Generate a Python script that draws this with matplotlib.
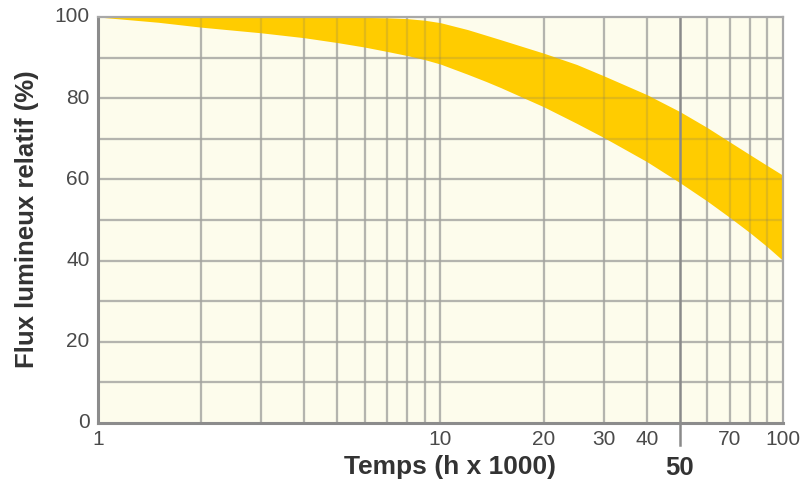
import matplotlib
matplotlib.use("Agg")
import matplotlib.pyplot as plt

# Data
time_k = [1, 1.5, 2, 3, 4, 5, 6, 7, 8, 9, 10, 12, 13.6, 15, 20, 25, 30, 40, 50, 60, 70, 80, 90, 100]
flux_upper = [100, 100, 100, 100, 100, 100, 99.9, 99.8, 99.6, 99.2, 98.6, 96.9, 95.5, 94.4, 91.1, 88.3, 85.5, 80.9, 76.7, 72.8, 69.2, 66.1, 63.4, 61]
flux_lower = [100, 98.7, 97.5, 96.1, 94.9, 93.7, 92.6, 91.5, 90.5, 89.5, 88.4, 85.9, 84.1, 82.6, 77.9, 73.8, 70.3, 64.4, 59.2, 54.7, 50.6, 46.9, 43.4, 40]

x_tick_vals = [1, 10, 20, 30, 40, 70, 100]
x_tick_labels = ["1", "10", "20", "30", "40", "70", "100"]
x_grid = [2, 3, 4, 5, 6, 7, 8, 9, 10, 20, 30, 40, 60, 70, 80, 90]
highlight_x = 50
y_tick_vals = [0, 20, 40, 60, 80, 100]
y_grid = [10, 20, 30, 40, 50, 60, 70, 80, 90]

plt.rcParams['font.family'] = ['Liberation Sans', 'DejaVu Sans']

fig = plt.figure(figsize=(8.04, 4.82), dpi=100)
ax = fig.add_axes([98/804, 1-423/482, (783-98)/804, (423-17)/482])
ax.set_facecolor('#fdfcec')
ax.set_xscale('log')
ax.set_xlim(1, 100)
ax.set_ylim(0, 100)

base_c = '#c6c6be'
for xv in x_grid:
    ax.axvline(xv, color=base_c, lw=1.6, zorder=1)
    ax.axvline(xv, color='#707070', alpha=0.2, lw=1.6, zorder=3)
for yv in y_grid:
    ax.axhline(yv, color=base_c, lw=1.6, zorder=1)
    ax.axhline(yv, color='#707070', alpha=0.2, lw=1.6, zorder=3)

ax.fill_between(time_k, flux_lower, flux_upper, color='#ffcc00', lw=0, zorder=2)

ax.axvline(highlight_x, color='#8a8a8a', lw=1.8, zorder=4)

for s in ['left', 'bottom']:
    ax.spines[s].set_color('#8c8c8c')
    ax.spines[s].set_linewidth(2.2)
for s in ['top', 'right']:
    ax.spines[s].set_color('#a8a8a8')
    ax.spines[s].set_linewidth(1.6)
for s in ax.spines.values():
    s.set_zorder(5)

ax.set_xticks(x_tick_vals)
ax.set_xticklabels(x_tick_labels)
ax.xaxis.set_minor_locator(matplotlib.ticker.NullLocator())
ax.set_yticks(y_tick_vals)
ax.set_yticklabels([str(v) for v in y_tick_vals])
ax.tick_params(axis='both', length=0, labelsize=15, colors='#4a4a4a')
ax.tick_params(axis='x', pad=5)
ax.tick_params(axis='y', pad=6)
for lbl in ax.get_yticklabels():
    lbl.set_verticalalignment('center')

# bold highlighted 50 with tick below axis
ax.plot([highlight_x, highlight_x], [0, -5.4], color='#8a8a8a', lw=1.8, clip_on=False, zorder=4)
ax.text(highlight_x, -11, "50", ha='center', va='center', fontsize=18.5, fontweight='bold',
        color='#333333', clip_on=False)

fig.text(450/804, 1-467/482, "Temps (h x 1000)", ha='center', va='center', fontsize=19,
         fontweight='bold', color='#333333')
fig.text(27/804, 1-219/482, "Flux lumineux relatif (%)", ha='center', va='center', rotation=90,
         fontsize=18.5, fontweight='bold', color='#333333')

fig.savefig("out.png", dpi=100, facecolor='white')
